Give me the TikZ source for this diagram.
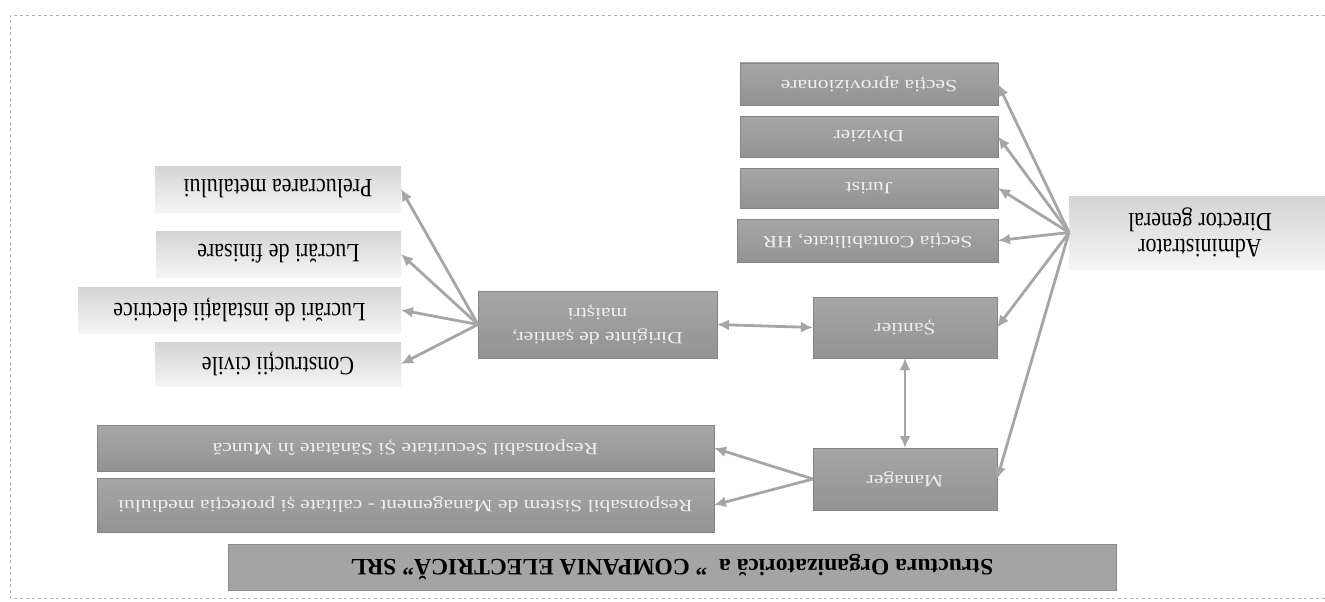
\documentclass[tikz,border=0pt]{standalone}
\usepackage{fontspec}
\setmainfont{Liberation Serif}
\usetikzlibrary{arrows.meta}
% light boxes: text taller than wide; dark boxes: text wider than tall
\newcommand{\udl}[1]{\rotatebox[origin=c]{180}{\scalebox{1}[1.2]{#1}}}
\newcommand{\udd}[1]{\rotatebox[origin=c]{180}{\scalebox{1}[0.8]{#1}}}
\newcommand{\uddtwo}[2]{\rotatebox[origin=c]{180}{\scalebox{1}[0.8]{\begin{tabular}{@{}c@{}}#1\\[6pt]#2\end{tabular}}}}
\newcommand{\udltwo}[2]{\rotatebox[origin=c]{180}{\scalebox{1}[1.2]{\begin{tabular}{@{}c@{}}#1\\[-4pt]#2\end{tabular}}}}
\definecolor{darkbox}{HTML}{939393}
\definecolor{darkboxb}{HTML}{A6A6A6}
\definecolor{lighttop}{HTML}{D4D4D4}
\definecolor{lightbot}{HTML}{F5F5F5}
\definecolor{titlebox}{HTML}{A4A4A4}
\definecolor{arrcol}{HTML}{A6A6A6}
\definecolor{darktext}{HTML}{EFEFEF}
\definecolor{bordercol}{HTML}{B4B4B4}
\tikzset{
  box/.style={inner sep=0pt, outer sep=0pt, align=center},
  darkb/.style={box, top color=darkboxb, bottom color=darkbox, draw=darkbox!90!black, line width=0.6pt,
    text=darktext, font=\fontsize{21.5}{24}\selectfont},
  lightb/.style={box, top color=lighttop, bottom color=lightbot, draw=none, text=black,
    font=\fontsize{22}{25}\selectfont},
  titleb/.style={box, fill=titlebox, draw=titlebox!85!black, line width=0.6pt, text=black,
    font=\fontsize{23.5}{26}\selectfont\bfseries},
  arr/.style={draw=arrcol, line width=2.8pt, -{Latex[length=12pt,width=11pt]}},
  darr/.style={draw=arrcol, line width=2.8pt, {Latex[length=12pt,width=11pt]}-{Latex[length=12pt,width=11pt]}},
}
\begin{document}
\begin{tikzpicture}[x=1pt,y=-1pt]
\useasboundingbox (0,0) rectangle (1325,602);
\fill[white] (0,0) rectangle (1325,602);
\draw[bordercol, line width=0.8pt, dash pattern=on 3pt off 3pt] (1325,15) -- (10,15) -- (10,598) -- (1325,598);

% title
\node[titleb, minimum width=888pt, minimum height=46pt] (title) at (672,567)
  {\rotatebox[origin=c]{180}{Structura Organizatorică a \ " COMPANIA ELECTRICĂ" SRL}};

% administrator
\node[lightb, minimum width=262pt, minimum height=73pt] (adm) at (1200,232.5)
  {\udltwo{Administrator}{Director general}};

% right column
\node[darkb, minimum width=258pt, minimum height=42pt] (sap) at (869,84) {\udd{Secția aprovizionare}};
\node[darkb, minimum width=258pt, minimum height=41pt] (div) at (869,136.5) {\udd{Divizier}};
\node[darkb, minimum width=258pt, minimum height=40pt] (jur) at (869,188) {\udd{Jurist}};
\node[darkb, minimum width=261pt, minimum height=43pt] (cont) at (867.5,240.5) {\udd{Secția Contabilitate, HR}};

\node[darkb, minimum width=184pt, minimum height=61pt] (sant) at (905,327.5) {\udd{Șantier}};
\node[darkb, minimum width=184pt, minimum height=62pt] (man) at (905,479) {\udd{Manager}};

\node[darkb, minimum width=239pt, minimum height=67pt] (dir) at (597.5,324.5) {\uddtwo{Diriginte de șantier,}{maiștri}};

\node[darkb, minimum width=617pt, minimum height=46pt] (rsec) at (405.5,448) {\udd{Responsabil Securitate Și Sănătate în Muncă}};
\node[darkb, minimum width=617pt, minimum height=54pt] (rsis) at (405.5,505) {\udd{Responsabil Sistem de Management - calitate și protecția mediului}};

% works
\node[lightb, minimum width=246pt, minimum height=46pt] (prel) at (278,189) {\udl{Prelucrarea metalului}};
\node[lightb, minimum width=245pt, minimum height=46pt] (fin) at (278.5,254) {\udl{Lucrări de finisare}};
\node[lightb, minimum width=323pt, minimum height=46pt] (inst) at (239.5,310) {\udl{Lucrări de instalații electrice}};
\node[lightb, minimum width=246pt, minimum height=44pt] (civ) at (278,364) {\udl{Construcții civile}};

% connectors
\foreach \t in {sap,div,jur,cont,sant,man} \draw[arr] (adm.west) -- (\t.east);
\foreach \t in {prel,fin,inst,civ} \draw[arr] (dir.west) -- (\t.east);
\foreach \t in {rsec,rsis} \draw[arr] (man.west) -- (\t.east);
\draw[darr] (sant.south) -- (man.north);
\draw[darr] (dir.east) -- (sant.west);
\end{tikzpicture}
\end{document}
